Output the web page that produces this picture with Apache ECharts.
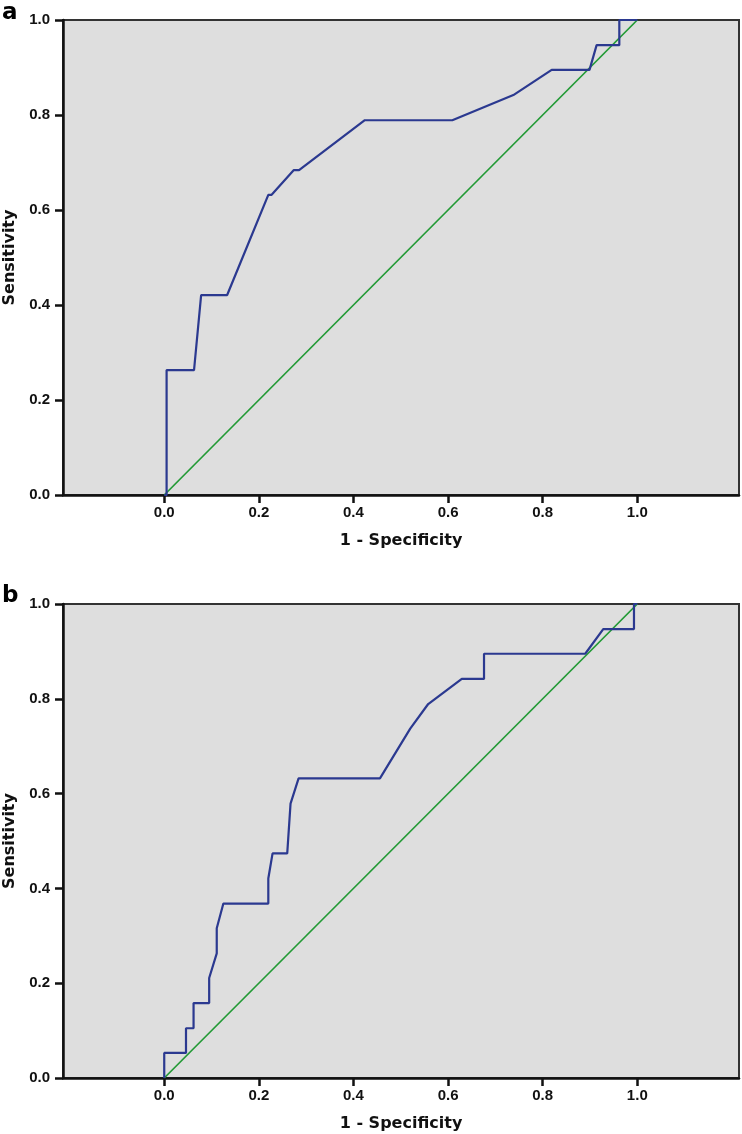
<!DOCTYPE html>
<html>
<head>
<meta charset="utf-8">
<script src="https://cdn.jsdelivr.net/npm/echarts@6/dist/echarts.min.js"></script>
<style>
html,body{margin:0;padding:0;background:#fff;}
#chart{width:742px;height:1134px;}
</style>
</head>
<body>
<div id="chart"></div>
<script>
// ROC curve points (1 - Specificity, Sensitivity)
var rocA = [[0,0],[0.005,0],[0.005,0.263],[0.063,0.263],[0.078,0.421],[0.133,0.421],[0.220,0.632],[0.227,0.632],[0.274,0.684],[0.285,0.684],[0.424,0.789],[0.609,0.789],[0.738,0.842],[0.819,0.895],[0.899,0.895],[0.914,0.947],[0.962,0.947],[0.962,1.0],[1.0,1.0]];
var rocB = [[0,0],[0,0.053],[0.046,0.053],[0.046,0.105],[0.062,0.105],[0.062,0.158],[0.095,0.158],[0.095,0.211],[0.111,0.263],[0.111,0.316],[0.125,0.368],[0.220,0.368],[0.220,0.421],[0.229,0.474],[0.260,0.474],[0.267,0.579],[0.284,0.632],[0.456,0.632],[0.520,0.737],[0.558,0.789],[0.629,0.842],[0.676,0.842],[0.676,0.895],[0.890,0.895],[0.928,0.947],[0.993,0.947],[0.993,1.0],[1.0,1.0]];
var reference = [[0,0],[1,1]];
var tickValues = [0,0.2,0.4,0.6,0.8,1.0];
var panelLabels = ['a','b'];
var xName = '1 - Specificity';
var yName = 'Sensitivity';

var chart = echarts.init(document.getElementById('chart'), null, {renderer:'canvas'});
var font = 'DejaVu Sans';
var tickFont = 'Liberation Sans';
var grids = [
  {left:63, top:20, width:676, height:475},
  {left:63, top:604, width:676, height:474}
];
function xAxis(i){
  return {
    type:'value', gridIndex:i, min:-0.214, max:1.215,
    splitLine:{show:false},
    axisLine:{show:true, onZero:false, lineStyle:{color:'#111', width:2.5}},
    axisTick:{show:true, length:8, customValues:tickValues, lineStyle:{color:'#111', width:2.5}},
    axisLabel:{show:true, customValues:tickValues, margin:10, color:'#111', fontFamily:tickFont, fontWeight:'bold', fontSize:15,
      formatter:function(v){return v.toFixed(1);}},
    name:xName, nameLocation:'middle', nameGap:38,
    nameTextStyle:{color:'#111', fontFamily:font, fontWeight:'bold', fontSize:16}
  };
}
function yAxis(i){
  return {
    type:'value', gridIndex:i, min:0, max:1, interval:0.2,
    splitLine:{show:false},
    axisLine:{show:true, onZero:false, lineStyle:{color:'#111', width:2.5}},
    axisTick:{show:true, length:8, lineStyle:{color:'#111', width:2.5}},
    axisLabel:{show:true, margin:13, color:'#111', fontFamily:tickFont, fontWeight:'bold', fontSize:15,
      formatter:function(v){return v.toFixed(1);}},
    name:yName, nameLocation:'middle', nameGap:45,
    nameTextStyle:{color:'#111', fontFamily:font, fontWeight:'bold', fontSize:16}
  };
}
function rocSeries(data, i){
  return {type:'line', xAxisIndex:i, yAxisIndex:i, data:data, showSymbol:false, symbol:'none',
    lineStyle:{color:'#2b3990', width:2.2}, z:3, animation:false};
}
function refSeries(i){
  return {type:'line', xAxisIndex:i, yAxisIndex:i, data:reference, showSymbol:false, symbol:'none',
    lineStyle:{color:'#229a35', width:1.7}, z:2, animation:false};
}
chart.setOption({
  animation:false,
  backgroundColor:'#fff',
  grid: grids.map(function(g){return Object.assign({show:true, containLabel:false, outerBoundsMode:'none', backgroundColor:'#dedede', borderColor:'#333', borderWidth:2}, g);}),
  xAxis:[xAxis(0), xAxis(1)],
  yAxis:[yAxis(0), yAxis(1)],
  series:[refSeries(0), rocSeries(rocA,0), refSeries(1), rocSeries(rocB,1)],
  graphic:[
    {type:'text', left:2, top:2, style:{text:panelLabels[0], fill:'#000', font:'bold 23px "DejaVu Sans"'}},
    {type:'text', left:2, top:585, style:{text:panelLabels[1], fill:'#000', font:'bold 23px "DejaVu Sans"'}}
  ]
});
</script>
</body>
</html>
